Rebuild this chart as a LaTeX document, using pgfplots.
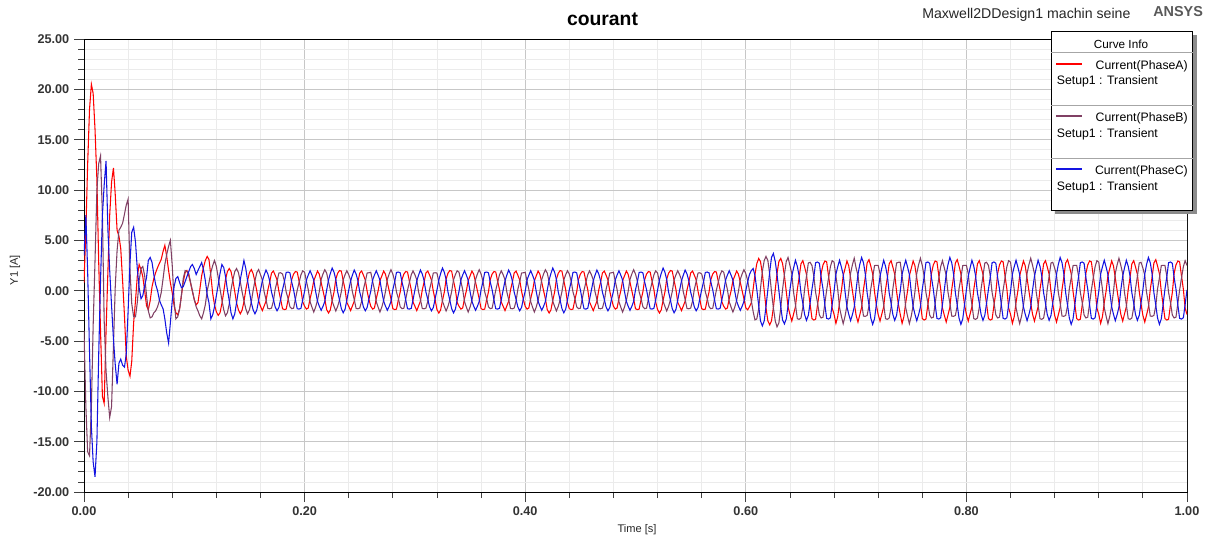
\documentclass[border=0pt]{standalone}
\usepackage{pgfplots}
\usepackage{pgfplotstable}
\pgfplotsset{compat=1.18}
\usepackage{fontspec}
\setmainfont{Liberation Sans}
\definecolor{phA}{RGB}{255,0,0}
\definecolor{phB}{RGB}{128,64,100}
\definecolor{phC}{RGB}{20,20,225}
\pgfplotstableread{
t A B C
0.0000 0.8 -4.0 3.5
0.0017 6.0 -11.5 7.5
0.0033 12.5 -16.0 2.0
0.0050 18.0 -16.4 -6.0
0.0067 20.5 -11.5 -13.5
0.0083 19.6 -3.5 -17.0
0.0100 16.0 3.0 -18.5
0.0117 11.0 10.0 -15.0
0.0133 3.0 12.6 -6.5
0.0150 -4.0 13.4 1.0
0.0167 -10.5 7.5 7.5
0.0183 -11.2 -3.0 10.5
0.0200 -4.0 -8.0 12.9
0.0217 2.0 -10.6 6.0
0.0233 7.5 -12.6 2.0
0.0250 10.8 -11.5 -1.5
0.0267 12.2 -5.5 -4.8
0.0283 9.6 0.3 -7.3
0.0300 6.0 4.0 -9.3
0.0317 5.4 6.0 -7.2
0.0333 4.2 6.3 -6.8
0.0350 1.0 6.7 -7.4
0.0367 -2.5 7.6 -7.6
0.0383 -6.5 8.5 -6.3
0.0400 -7.9 9.1 -2.0
0.0417 -8.5 2.0 2.8
0.0433 -7.0 -1.3 5.8
0.0450 -3.2 -2.6 6.3
0.0467 -1.0 -2.6 4.8
0.0483 1.4 -1.2 2.2
0.0500 2.6 1.0 0.3
0.0517 2.1 2.2 -0.8
0.0533 1.4 2.4 -0.5
0.0550 0.0 1.5 0.5
0.0567 -1.5 -0.5 1.3
0.0583 -1.9 -2.0 3.0
0.0600 -1.0 -2.7 3.3
0.0617 0.4 -2.6 2.8
0.0633 1.2 -2.2 1.6
0.0650 1.8 -2.0 0.6
0.0667 2.3 -1.6 0.0
0.0683 2.7 -1.0 -0.9
0.0700 3.1 -0.2 -1.4
0.0717 3.9 1.2 -1.8
0.0733 4.5 2.6 -2.8
0.0750 3.4 3.6 -4.2
0.0767 2.0 4.4 -5.2
0.0783 0.8 5.0 -3.2
0.0800 -0.2 2.5 -1.0
0.0817 -1.5 -1.0 0.4
0.0833 -2.2 -2.8 1.2
0.0850 -2.4 -2.6 1.4
0.0867 -1.8 -1.8 0.8
0.0883 -0.5 -0.5 0.3
0.0900 0.9 1.2 0.4
0.0917 1.8 2.0 0.9
0.0933 2.0 1.9 1.4
0.0950 1.5 1.7 1.9
0.0967 0.7 0.8 2.4
0.0983 -0.1 0.0 2.6
0.1000 -0.9 -0.9 2.2
0.1017 -1.4 -1.6 1.6
0.1033 -1.2 -2.0 2.0
0.1050 0.1 -2.5 2.4
0.1067 1.5 -2.8 2.8
0.1083 2.3 -2.2 2.1
0.1100 3.0 -1.4 1.0
0.1117 3.4 0.0 -0.4
0.1133 3.1 0.8 -1.2
0.1150 1.5 1.8 -2.8
0.1167 -0.3 2.5 -2.4
0.1183 -1.4 3.0 -1.6
0.1200 -2.10 2.40 -0.50
0.1217 -2.45 1.30 0.60
0.1233 -2.20 0.20 1.70
0.1250 -1.30 -0.90 2.60
0.1267 -0.10 -1.90 2.30
0.1283 1.10 -2.50 1.40
0.1300 1.90 -2.20 0.10
0.1317 2.20 -1.30 -1.00
0.1333 1.90 0.10 -2.20
0.1350 1.00 1.10 -2.80
0.1367 -0.10 1.90 -2.30
0.1383 -1.20 2.20 -1.20
0.1400 -1.90 1.80 0.00
0.1417 -2.30 0.90 1.10
0.1433 -1.95 -0.10 2.00
0.1450 -1.10 -1.00 3.00
0.1467 0.10 -1.80 2.20
0.1483 1.00 -2.30 1.00
0.1500 1.80 -1.90 -0.10
0.1517 2.10 -1.10 -1.20
0.1533 1.70 0.00 -1.90
0.1550 0.90 1.00 -2.30
0.1567 -0.05 1.80 -1.90
0.1583 -1.00 2.10 -1.00
0.1600 -1.55 1.59 0.05
0.1617 -1.98 1.07 0.97
0.1633 -1.53 -0.10 1.53
0.1650 -1.05 -0.87 2.05
0.1667 0.08 -1.77 1.65
0.1683 0.83 -1.80 1.01
0.1700 1.75 -1.73 -0.14
0.1717 1.95 -1.05 -0.85
0.1733 1.55 0.12 -1.61
0.1750 1.07 0.90 -2.00
0.1767 -0.06 1.75 -1.67
0.1783 -0.87 1.78 -0.83
0.1800 -1.79 1.65 0.10
0.1817 -1.88 0.95 0.90
0.1833 -1.83 -0.12 1.81
0.1850 -0.92 -0.78 1.85
0.1867 -0.12 -1.60 1.77
0.1883 1.10 -1.79 0.86
0.1900 1.65 -1.74 0.10
0.1917 1.90 -0.83 -0.93
0.1933 1.85 0.04 -1.79
0.1950 0.95 0.83 -1.83
0.1967 0.10 1.58 -1.75
0.1983 -1.12 1.97 -0.90
0.2000 -1.55 1.83 -0.06
0.2017 -1.83 0.92 1.07
0.2033 -1.72 0.12 1.55
0.2050 -0.78 -1.10 1.98
0.2067 0.00 -1.65 1.53
0.2083 0.99 -2.12 1.05
0.2100 1.46 -1.63 -0.08
0.2117 1.95 -0.95 -1.05
0.2133 1.64 -0.10 -1.53
0.2150 0.83 1.12 -1.95
0.2167 -0.02 1.67 -1.55
0.2183 -0.81 2.08 -1.07
0.2200 -1.88 1.75 0.05
0.2217 -2.22 0.87 1.07
0.2233 -1.92 0.12 1.70
0.2250 -0.97 -1.05 2.25
0.2267 -0.12 -1.57 1.82
0.2283 1.15 -2.02 1.11
0.2300 1.74 -1.55 -0.14
0.2317 2.00 -0.90 -0.95
0.2333 1.94 -0.10 -1.78
0.2350 1.00 1.07 -2.20
0.2367 0.10 1.59 -1.84
0.2383 -1.17 1.98 -0.93
0.2400 -1.55 1.59 0.05
0.2417 -1.98 1.07 0.97
0.2433 -1.53 -0.10 1.53
0.2450 -1.05 -0.87 2.05
0.2467 0.08 -1.77 1.65
0.2483 0.83 -1.80 1.01
0.2500 1.75 -1.73 -0.14
0.2517 1.95 -1.05 -0.85
0.2533 1.55 0.12 -1.61
0.2550 1.07 0.90 -2.00
0.2567 -0.06 1.75 -1.67
0.2583 -0.87 1.78 -0.83
0.2600 -1.55 1.83 -0.06
0.2617 -1.83 0.92 1.07
0.2633 -1.72 0.12 1.55
0.2650 -0.78 -1.10 1.98
0.2667 0.00 -1.65 1.53
0.2683 0.99 -2.12 1.05
0.2700 1.46 -1.63 -0.08
0.2717 1.95 -0.95 -1.05
0.2733 1.64 -0.10 -1.53
0.2750 0.83 1.12 -1.95
0.2767 -0.02 1.67 -1.55
0.2783 -0.81 2.08 -1.07
0.2800 -1.79 1.65 0.10
0.2817 -1.88 0.95 0.90
0.2833 -1.83 -0.12 1.81
0.2850 -0.92 -0.78 1.85
0.2867 -0.12 -1.60 1.77
0.2883 1.10 -1.79 0.86
0.2900 1.65 -1.74 0.10
0.2917 1.90 -0.83 -0.93
0.2933 1.85 0.04 -1.79
0.2950 0.95 0.83 -1.83
0.2967 0.10 1.58 -1.75
0.2983 -1.12 1.97 -0.90
0.3000 -1.55 1.59 0.05
0.3017 -1.98 1.07 0.97
0.3033 -1.53 -0.10 1.53
0.3050 -1.05 -0.87 2.05
0.3067 0.08 -1.77 1.65
0.3083 0.83 -1.80 1.01
0.3100 1.75 -1.73 -0.14
0.3117 1.95 -1.05 -0.85
0.3133 1.55 0.12 -1.61
0.3150 1.07 0.90 -2.00
0.3167 -0.06 1.75 -1.67
0.3183 -0.87 1.78 -0.83
0.3200 -1.88 1.75 0.05
0.3217 -2.22 0.87 1.07
0.3233 -1.92 0.12 1.70
0.3250 -0.97 -1.05 2.25
0.3267 -0.12 -1.57 1.82
0.3283 1.15 -2.02 1.11
0.3300 1.74 -1.55 -0.14
0.3317 2.00 -0.90 -0.95
0.3333 1.94 -0.10 -1.78
0.3350 1.00 1.07 -2.20
0.3367 0.10 1.59 -1.84
0.3383 -1.17 1.98 -0.93
0.3400 -1.55 1.83 -0.06
0.3417 -1.83 0.92 1.07
0.3433 -1.72 0.12 1.55
0.3450 -0.78 -1.10 1.98
0.3467 0.00 -1.65 1.53
0.3483 0.99 -2.12 1.05
0.3500 1.46 -1.63 -0.08
0.3517 1.95 -0.95 -1.05
0.3533 1.64 -0.10 -1.53
0.3550 0.83 1.12 -1.95
0.3567 -0.02 1.67 -1.55
0.3583 -0.81 2.08 -1.07
0.3600 -1.79 1.65 0.10
0.3617 -1.88 0.95 0.90
0.3633 -1.83 -0.12 1.81
0.3650 -0.92 -0.78 1.85
0.3667 -0.12 -1.60 1.77
0.3683 1.10 -1.79 0.86
0.3700 1.65 -1.74 0.10
0.3717 1.90 -0.83 -0.93
0.3733 1.85 0.04 -1.79
0.3750 0.95 0.83 -1.83
0.3767 0.10 1.58 -1.75
0.3783 -1.12 1.97 -0.90
0.3800 -1.55 1.59 0.05
0.3817 -1.98 1.07 0.97
0.3833 -1.53 -0.10 1.53
0.3850 -1.05 -0.87 2.05
0.3867 0.08 -1.77 1.65
0.3883 0.83 -1.80 1.01
0.3900 1.75 -1.73 -0.14
0.3917 1.95 -1.05 -0.85
0.3933 1.55 0.12 -1.61
0.3950 1.07 0.90 -2.00
0.3967 -0.06 1.75 -1.67
0.3983 -0.87 1.78 -0.83
0.4000 -1.55 1.83 -0.06
0.4017 -1.83 0.92 1.07
0.4033 -1.72 0.12 1.55
0.4050 -0.78 -1.10 1.98
0.4067 0.00 -1.65 1.53
0.4083 0.99 -2.12 1.05
0.4100 1.46 -1.63 -0.08
0.4117 1.95 -0.95 -1.05
0.4133 1.64 -0.10 -1.53
0.4150 0.83 1.12 -1.95
0.4167 -0.02 1.67 -1.55
0.4183 -0.81 2.08 -1.07
0.4200 -1.88 1.75 0.05
0.4217 -2.22 0.87 1.07
0.4233 -1.92 0.12 1.70
0.4250 -0.97 -1.05 2.25
0.4267 -0.12 -1.57 1.82
0.4283 1.15 -2.02 1.11
0.4300 1.74 -1.55 -0.14
0.4317 2.00 -0.90 -0.95
0.4333 1.94 -0.10 -1.78
0.4350 1.00 1.07 -2.20
0.4367 0.10 1.59 -1.84
0.4383 -1.17 1.98 -0.93
0.4400 -1.79 1.65 0.10
0.4417 -1.88 0.95 0.90
0.4433 -1.83 -0.12 1.81
0.4450 -0.92 -0.78 1.85
0.4467 -0.12 -1.60 1.77
0.4483 1.10 -1.79 0.86
0.4500 1.65 -1.74 0.10
0.4517 1.90 -0.83 -0.93
0.4533 1.85 0.04 -1.79
0.4550 0.95 0.83 -1.83
0.4567 0.10 1.58 -1.75
0.4583 -1.12 1.97 -0.90
0.4600 -1.55 1.59 0.05
0.4617 -1.98 1.07 0.97
0.4633 -1.53 -0.10 1.53
0.4650 -1.05 -0.87 2.05
0.4667 0.08 -1.77 1.65
0.4683 0.83 -1.80 1.01
0.4700 1.75 -1.73 -0.14
0.4717 1.95 -1.05 -0.85
0.4733 1.55 0.12 -1.61
0.4750 1.07 0.90 -2.00
0.4767 -0.06 1.75 -1.67
0.4783 -0.87 1.78 -0.83
0.4800 -1.55 1.83 -0.06
0.4817 -1.83 0.92 1.07
0.4833 -1.72 0.12 1.55
0.4850 -0.78 -1.10 1.98
0.4867 0.00 -1.65 1.53
0.4883 0.99 -2.12 1.05
0.4900 1.46 -1.63 -0.08
0.4917 1.95 -0.95 -1.05
0.4933 1.64 -0.10 -1.53
0.4950 0.83 1.12 -1.95
0.4967 -0.02 1.67 -1.55
0.4983 -0.81 2.08 -1.07
0.5000 -1.79 1.65 0.10
0.5017 -1.88 0.95 0.90
0.5033 -1.83 -0.12 1.81
0.5050 -0.92 -0.78 1.85
0.5067 -0.12 -1.60 1.77
0.5083 1.10 -1.79 0.86
0.5100 1.65 -1.74 0.10
0.5117 1.90 -0.83 -0.93
0.5133 1.85 0.04 -1.79
0.5150 0.95 0.83 -1.83
0.5167 0.10 1.58 -1.75
0.5183 -1.12 1.97 -0.90
0.5200 -1.88 1.75 0.05
0.5217 -2.22 0.87 1.07
0.5233 -1.92 0.12 1.70
0.5250 -0.97 -1.05 2.25
0.5267 -0.12 -1.57 1.82
0.5283 1.15 -2.02 1.11
0.5300 1.74 -1.55 -0.14
0.5317 2.00 -0.90 -0.95
0.5333 1.94 -0.10 -1.78
0.5350 1.00 1.07 -2.20
0.5367 0.10 1.59 -1.84
0.5383 -1.17 1.98 -0.93
0.5400 -1.55 1.59 0.05
0.5417 -1.98 1.07 0.97
0.5433 -1.53 -0.10 1.53
0.5450 -1.05 -0.87 2.05
0.5467 0.08 -1.77 1.65
0.5483 0.83 -1.80 1.01
0.5500 1.75 -1.73 -0.14
0.5517 1.95 -1.05 -0.85
0.5533 1.55 0.12 -1.61
0.5550 1.07 0.90 -2.00
0.5567 -0.06 1.75 -1.67
0.5583 -0.87 1.78 -0.83
0.5600 -1.79 1.65 0.10
0.5617 -1.88 0.95 0.90
0.5633 -1.83 -0.12 1.81
0.5650 -0.92 -0.78 1.85
0.5667 -0.12 -1.60 1.77
0.5683 1.10 -1.79 0.86
0.5700 1.65 -1.74 0.10
0.5717 1.90 -0.83 -0.93
0.5733 1.85 0.04 -1.79
0.5750 0.95 0.83 -1.83
0.5767 0.10 1.58 -1.75
0.5783 -1.12 1.97 -0.90
0.5800 -1.55 1.83 -0.06
0.5817 -1.83 0.92 1.07
0.5833 -1.72 0.12 1.55
0.5850 -0.78 -1.10 1.98
0.5867 0.00 -1.65 1.53
0.5883 0.99 -2.12 1.05
0.5900 1.46 -1.63 -0.08
0.5917 1.95 -0.95 -1.05
0.5933 1.64 -0.10 -1.53
0.5950 0.83 1.12 -1.95
0.5967 -0.02 1.67 -1.55
0.5983 -0.81 2.08 -1.07
0.6000 -1.70 1.70 0.00
0.6017 -1.90 1.00 0.90
0.6033 -1.60 0.00 1.60
0.6050 -1.20 -1.00 2.00
0.6067 0.20 -2.10 2.20
0.6083 1.60 -2.90 1.50
0.6100 2.70 -2.80 0.10
0.6117 3.20 -1.80 -1.50
0.6133 2.90 0.20 -3.00
0.6150 1.70 1.90 -3.50
0.6167 0.00 3.00 -3.00
0.6183 -1.70 3.40 -1.60
0.6200 -3.00 3.00 0.10
0.6217 -3.40 1.60 1.90
0.6233 -3.00 -0.10 3.30
0.6250 -1.70 -1.70 3.70
0.6267 0.10 -3.00 2.90
0.6283 1.70 -3.60 1.60
0.6300 2.90 -3.20 0.00
0.6317 3.20 -1.70 -1.60
0.6333 2.70 0.10 -2.90
0.6350 1.50 1.60 -3.30
0.6367 -0.10 2.90 -2.80
0.6383 -1.60 3.30 -1.50
0.6400 -2.36 2.51 0.08
0.6417 -3.02 1.68 1.43
0.6433 -2.33 -0.15 2.24
0.6450 -1.60 -1.38 3.02
0.6467 0.12 -2.78 2.42
0.6483 1.27 -2.85 1.49
0.6500 2.66 -2.72 -0.21
0.6517 2.98 -1.65 -1.25
0.6533 2.36 0.18 -2.36
0.6550 1.63 1.42 -2.95
0.6567 -0.09 2.75 -2.45
0.6583 -1.33 2.82 -1.22
0.6600 -2.77 2.50 0.15
0.6617 -2.92 1.43 1.38
0.6633 -2.83 -0.18 2.78
0.6650 -1.43 -1.18 2.85
0.6667 -0.18 -2.42 2.72
0.6683 1.70 -2.71 1.32
0.6700 2.56 -2.63 0.15
0.6717 2.95 -1.25 -1.42
0.6733 2.86 0.06 -2.75
0.6750 1.47 1.25 -2.82
0.6767 0.15 2.39 -2.69
0.6783 -1.73 2.98 -1.38
0.6800 -2.34 2.83 -0.09
0.6817 -3.25 1.43 1.63
0.6833 -2.60 0.18 2.36
0.6850 -1.18 -1.70 3.02
0.6867 0.00 -2.56 2.33
0.6883 1.49 -3.28 1.60
0.6900 2.21 -2.53 -0.12
0.6917 2.95 -1.47 -1.60
0.6933 2.48 -0.15 -2.33
0.6950 1.25 1.73 -2.98
0.6967 -0.03 2.59 -2.36
0.6983 -1.22 3.22 -1.63
0.7000 -2.45 2.25 0.08
0.7017 -3.12 1.53 1.63
0.7033 -2.42 -0.15 2.59
0.7050 -1.65 -1.23 3.30
0.7067 0.12 -2.52 2.77
0.7083 1.32 -2.55 1.69
0.7100 2.75 -2.46 -0.21
0.7117 3.08 -1.50 -1.45
0.7133 2.45 0.18 -2.71
0.7150 1.68 1.27 -3.35
0.7167 -0.09 2.49 -2.80
0.7183 -1.38 2.52 -1.42
0.7200 -2.36 2.51 0.08
0.7217 -3.02 1.68 1.43
0.7233 -2.33 -0.15 2.24
0.7250 -1.60 -1.38 3.02
0.7267 0.12 -2.78 2.42
0.7283 1.27 -2.85 1.49
0.7300 2.66 -2.72 -0.21
0.7317 2.98 -1.65 -1.25
0.7333 2.36 0.18 -2.36
0.7350 1.63 1.42 -2.95
0.7367 -0.09 2.75 -2.45
0.7383 -1.33 2.82 -1.22
0.7400 -2.34 2.83 -0.09
0.7417 -3.25 1.43 1.63
0.7433 -2.60 0.18 2.36
0.7450 -1.18 -1.70 3.02
0.7467 0.00 -2.56 2.33
0.7483 1.49 -3.28 1.60
0.7500 2.21 -2.53 -0.12
0.7517 2.95 -1.47 -1.60
0.7533 2.48 -0.15 -2.33
0.7550 1.25 1.73 -2.98
0.7567 -0.03 2.59 -2.36
0.7583 -1.22 3.22 -1.63
0.7600 -2.77 2.50 0.15
0.7617 -2.92 1.43 1.38
0.7633 -2.83 -0.18 2.78
0.7650 -1.43 -1.18 2.85
0.7667 -0.18 -2.42 2.72
0.7683 1.70 -2.71 1.32
0.7700 2.56 -2.63 0.15
0.7717 2.95 -1.25 -1.42
0.7733 2.86 0.06 -2.75
0.7750 1.47 1.25 -2.82
0.7767 0.15 2.39 -2.69
0.7783 -1.73 2.98 -1.38
0.7800 -2.45 2.25 0.08
0.7817 -3.12 1.53 1.63
0.7833 -2.42 -0.15 2.59
0.7850 -1.65 -1.23 3.30
0.7867 0.12 -2.52 2.77
0.7883 1.32 -2.55 1.69
0.7900 2.75 -2.46 -0.21
0.7917 3.08 -1.50 -1.45
0.7933 2.45 0.18 -2.71
0.7950 1.68 1.27 -3.35
0.7967 -0.09 2.49 -2.80
0.7983 -1.38 2.52 -1.42
0.8000 -2.36 2.51 0.08
0.8017 -3.02 1.68 1.43
0.8033 -2.33 -0.15 2.24
0.8050 -1.60 -1.38 3.02
0.8067 0.12 -2.78 2.42
0.8083 1.27 -2.85 1.49
0.8100 2.66 -2.72 -0.21
0.8117 2.98 -1.65 -1.25
0.8133 2.36 0.18 -2.36
0.8150 1.63 1.42 -2.95
0.8167 -0.09 2.75 -2.45
0.8183 -1.33 2.82 -1.22
0.8200 -2.77 2.50 0.15
0.8217 -2.92 1.43 1.38
0.8233 -2.83 -0.18 2.78
0.8250 -1.43 -1.18 2.85
0.8267 -0.18 -2.42 2.72
0.8283 1.70 -2.71 1.32
0.8300 2.56 -2.63 0.15
0.8317 2.95 -1.25 -1.42
0.8333 2.86 0.06 -2.75
0.8350 1.47 1.25 -2.82
0.8367 0.15 2.39 -2.69
0.8383 -1.73 2.98 -1.38
0.8400 -2.34 2.83 -0.09
0.8417 -3.25 1.43 1.63
0.8433 -2.60 0.18 2.36
0.8450 -1.18 -1.70 3.02
0.8467 0.00 -2.56 2.33
0.8483 1.49 -3.28 1.60
0.8500 2.21 -2.53 -0.12
0.8517 2.95 -1.47 -1.60
0.8533 2.48 -0.15 -2.33
0.8550 1.25 1.73 -2.98
0.8567 -0.03 2.59 -2.36
0.8583 -1.22 3.22 -1.63
0.8600 -2.36 2.51 0.08
0.8617 -3.02 1.68 1.43
0.8633 -2.33 -0.15 2.24
0.8650 -1.60 -1.38 3.02
0.8667 0.12 -2.78 2.42
0.8683 1.27 -2.85 1.49
0.8700 2.66 -2.72 -0.21
0.8717 2.98 -1.65 -1.25
0.8733 2.36 0.18 -2.36
0.8750 1.63 1.42 -2.95
0.8767 -0.09 2.75 -2.45
0.8783 -1.33 2.82 -1.22
0.8800 -2.45 2.25 0.08
0.8817 -3.12 1.53 1.63
0.8833 -2.42 -0.15 2.59
0.8850 -1.65 -1.23 3.30
0.8867 0.12 -2.52 2.77
0.8883 1.32 -2.55 1.69
0.8900 2.75 -2.46 -0.21
0.8917 3.08 -1.50 -1.45
0.8933 2.45 0.18 -2.71
0.8950 1.68 1.27 -3.35
0.8967 -0.09 2.49 -2.80
0.8983 -1.38 2.52 -1.42
0.9000 -2.77 2.50 0.15
0.9017 -2.92 1.43 1.38
0.9033 -2.83 -0.18 2.78
0.9050 -1.43 -1.18 2.85
0.9067 -0.18 -2.42 2.72
0.9083 1.70 -2.71 1.32
0.9100 2.56 -2.63 0.15
0.9117 2.95 -1.25 -1.42
0.9133 2.86 0.06 -2.75
0.9150 1.47 1.25 -2.82
0.9167 0.15 2.39 -2.69
0.9183 -1.73 2.98 -1.38
0.9200 -2.34 2.83 -0.09
0.9217 -3.25 1.43 1.63
0.9233 -2.60 0.18 2.36
0.9250 -1.18 -1.70 3.02
0.9267 0.00 -2.56 2.33
0.9283 1.49 -3.28 1.60
0.9300 2.21 -2.53 -0.12
0.9317 2.95 -1.47 -1.60
0.9333 2.48 -0.15 -2.33
0.9350 1.25 1.73 -2.98
0.9367 -0.03 2.59 -2.36
0.9383 -1.22 3.22 -1.63
0.9400 -2.36 2.51 0.08
0.9417 -3.02 1.68 1.43
0.9433 -2.33 -0.15 2.24
0.9450 -1.60 -1.38 3.02
0.9467 0.12 -2.78 2.42
0.9483 1.27 -2.85 1.49
0.9500 2.66 -2.72 -0.21
0.9517 2.98 -1.65 -1.25
0.9533 2.36 0.18 -2.36
0.9550 1.63 1.42 -2.95
0.9567 -0.09 2.75 -2.45
0.9583 -1.33 2.82 -1.22
0.9600 -2.45 2.25 0.08
0.9617 -3.12 1.53 1.63
0.9633 -2.42 -0.15 2.59
0.9650 -1.65 -1.23 3.30
0.9667 0.12 -2.52 2.77
0.9683 1.32 -2.55 1.69
0.9700 2.75 -2.46 -0.21
0.9717 3.08 -1.50 -1.45
0.9733 2.45 0.18 -2.71
0.9750 1.68 1.27 -3.35
0.9767 -0.09 2.49 -2.80
0.9783 -1.38 2.52 -1.42
0.9800 -2.77 2.50 0.15
0.9817 -2.92 1.43 1.38
0.9833 -2.83 -0.18 2.78
0.9850 -1.43 -1.18 2.85
0.9867 -0.18 -2.42 2.72
0.9883 1.70 -2.71 1.32
0.9900 2.56 -2.63 0.15
0.9917 2.95 -1.25 -1.42
0.9933 2.86 0.06 -2.75
0.9950 1.47 1.25 -2.82
0.9967 0.15 2.39 -2.69
0.9983 -1.73 2.98 -1.38
1.0000 -2.36 2.51 0.08
}\data
\begin{document}
\begin{tikzpicture}
\useasboundingbox (0,0) rectangle (905.25pt,405pt);
\begin{axis}[
  at={(63pt,36pt)}, anchor=south west,
  scale only axis, width=827.25pt, height=339.75pt,
  xmin=0, xmax=1, ymin=-20, ymax=25,
  xtick={0,0.2,0.4,0.6,0.8,1},
  minor x tick num=4,
  ytick={-20,-15,-10,-5,0,5,10,15,20,25},
  minor y tick num=4,
  xtick pos=bottom, ytick pos=left,
  tick align=outside,
  major tick length=7.5pt, minor tick length=4.5pt,
  tick style={black!75, line width=0.6pt},
  grid=both,
  major grid style={color=black!22, line width=0.7pt},
  minor grid style={color=black!8, line width=0.6pt},
  axis line style={black, line width=0.7pt},
  ticklabel style={font=\bfseries\fontsize{9.5}{11}\selectfont, text=black!80},
  /pgf/number format/.cd, fixed, fixed zerofill, precision=2, assume math mode=true,
]
\addplot[phA, line width=0.8pt] table[x=t, y=A] {\data};
\addplot[phB, line width=0.8pt] table[x=t, y=B] {\data};
\addplot[phC, line width=0.8pt] table[x=t, y=C] {\data};
\draw[black!30, line width=0.7pt] (rel axis cs:1,0) -- (rel axis cs:1,1);
\end{axis}
% titles
\node[anchor=base, font=\bfseries\fontsize{14.5}{16}\selectfont] at (451.9pt,385.5pt) {courant};
\node[anchor=base west, font=\fontsize{10.6}{12}\selectfont, text=black!85, inner sep=0pt] at (691.5pt,391.3pt) {Maxwell2DDesign1 machin seine};
\node[anchor=base west, font=\bfseries\fontsize{10.8}{12}\selectfont, text=black!65, inner sep=0pt] at (864.75pt,392.5pt) {ANSYS};
% axis labels
\node[rotate=90, font=\fontsize{8.3}{10}\selectfont, text=black!85] at (11.25pt,202.5pt) {Y1 [A]};
\node[font=\fontsize{8.3}{10}\selectfont, text=black!85] at (477.75pt,7.5pt) {Time [s]};
% curve info box
\fill[black!45] (791.25pt,244.5pt) rectangle (897.4pt,378.75pt);
\filldraw[fill=white, draw=black, line width=0.6pt] (788.25pt,247.5pt) rectangle (894.4pt,381.75pt);
\node[font=\fontsize{8.8}{10}\selectfont] at (840.75pt,372pt) {Curve Info};
\draw[black!35, line width=0.6pt] (788.25pt,366pt) -- (894.4pt,366pt);
\draw[black!35, line width=0.6pt] (788.25pt,325.7pt) -- (894.4pt,325.7pt);
\draw[black!35, line width=0.6pt] (788.25pt,286.3pt) -- (894.4pt,286.3pt);
\draw[phA, line width=1.3pt] (792pt,356.8pt) -- (811.5pt,356.8pt);
\node[anchor=east, font=\fontsize{9.2}{10}\selectfont, inner sep=0pt] at (891pt,355.5pt) {Current(PhaseA)};
\node[anchor=west, font=\fontsize{9.2}{10}\selectfont, inner sep=0pt] at (792.5pt,343.7pt) {Setup1 : Transient};
\draw[phB, line width=1.3pt] (792pt,318pt) -- (811.5pt,318pt);
\node[anchor=east, font=\fontsize{9.2}{10}\selectfont, inner sep=0pt] at (891pt,316.2pt) {Current(PhaseB)};
\node[anchor=west, font=\fontsize{9.2}{10}\selectfont, inner sep=0pt] at (792.5pt,304.3pt) {Setup1 : Transient};
\draw[phC, line width=1.3pt] (792pt,278.25pt) -- (811.5pt,278.25pt);
\node[anchor=east, font=\fontsize{9.2}{10}\selectfont, inner sep=0pt] at (891pt,276.6pt) {Current(PhaseC)};
\node[anchor=west, font=\fontsize{9.2}{10}\selectfont, inner sep=0pt] at (792.5pt,264.2pt) {Setup1 : Transient};
\end{tikzpicture}
\end{document}
